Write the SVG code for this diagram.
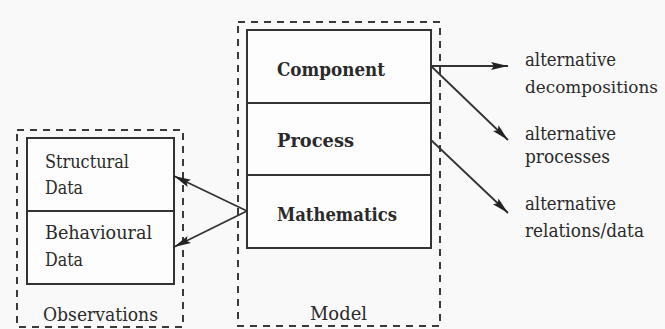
<svg xmlns="http://www.w3.org/2000/svg" width="665" height="329" viewBox="0 0 665 329">
<defs>
<style>
.bg{fill:#f9f9f9}
.dash{fill:none;stroke:#3a3a3a;stroke-width:2;stroke-dasharray:7 6}
.box{fill:#fdfdfd;stroke:#333;stroke-width:2}
text{font-family:'DejaVu Serif',serif;font-size:19px;fill:#2a2a2a}
.b{font-weight:bold}
.s{font-size:16.5px}
.c{fill:none;stroke:#333;stroke-width:1.8}
</style>
<marker id="ah" markerUnits="userSpaceOnUse" markerWidth="20" markerHeight="10" refX="17" refY="5" orient="auto">
<path d="M0,1 L17,5 L0,9 L3,5 z" fill="#222"/>
</marker>
</defs>
<rect class="bg" x="0" y="0" width="665" height="329"/>
<g id="observations">
<rect class="dash" x="17" y="130" width="166" height="197"/>
<text x="43" y="321" textLength="115" lengthAdjust="spacingAndGlyphs">Observations</text>
</g>
<g id="structural-data">
<rect class="box" x="27" y="138" width="147" height="73"/>
<text x="45" y="168" textLength="84" lengthAdjust="spacingAndGlyphs">Structural</text>
<text x="45" y="194" textLength="38" lengthAdjust="spacingAndGlyphs">Data</text>
</g>
<g id="behavioural-data">
<rect class="box" x="27" y="211" width="147" height="73"/>
<text x="45" y="239" textLength="107" lengthAdjust="spacingAndGlyphs">Behavioural</text>
<text x="45" y="266" textLength="38" lengthAdjust="spacingAndGlyphs">Data</text>
</g>
<g id="model">
<rect class="dash" x="238" y="22" width="202" height="304"/>
<text x="310" y="320" textLength="57" lengthAdjust="spacingAndGlyphs">Model</text>
</g>
<g id="component">
<rect class="box" x="247" y="30" width="184" height="73"/>
<text class="b" x="277" y="76" textLength="108" lengthAdjust="spacingAndGlyphs">Component</text>
</g>
<g id="process">
<rect class="box" x="247" y="103" width="184" height="72"/>
<text class="b" x="277" y="147" textLength="77" lengthAdjust="spacingAndGlyphs">Process</text>
</g>
<g id="mathematics">
<rect class="box" x="247" y="175" width="184" height="73"/>
<text class="b" x="277" y="221" textLength="120" lengthAdjust="spacingAndGlyphs">Mathematics</text>
</g>
<g id="alt-decompositions">
<text x="525" y="66" textLength="91" lengthAdjust="spacingAndGlyphs">alternative</text>
<text class="s" x="525" y="93" textLength="133" lengthAdjust="spacingAndGlyphs">decompositions</text>
</g>
<g id="alt-processes">
<text x="525" y="140" textLength="91" lengthAdjust="spacingAndGlyphs">alternative</text>
<text x="525" y="163" textLength="85" lengthAdjust="spacingAndGlyphs">processes</text>
</g>
<g id="alt-relations">
<text x="525" y="210" textLength="91" lengthAdjust="spacingAndGlyphs">alternative</text>
<text x="525" y="237" textLength="119" lengthAdjust="spacingAndGlyphs">relations/data</text>
</g>
<g id="connectors">
<line class="c" x1="431" y1="66" x2="508" y2="66" marker-end="url(#ah)"/>
<line class="c" x1="431" y1="66" x2="508" y2="140" marker-end="url(#ah)"/>
<line class="c" x1="431" y1="140" x2="508" y2="213" marker-end="url(#ah)"/>
<line class="c" x1="247" y1="211" x2="174" y2="176" marker-end="url(#ah)"/>
<line class="c" x1="247" y1="211" x2="174" y2="247" marker-end="url(#ah)"/>
</g>
</svg>
